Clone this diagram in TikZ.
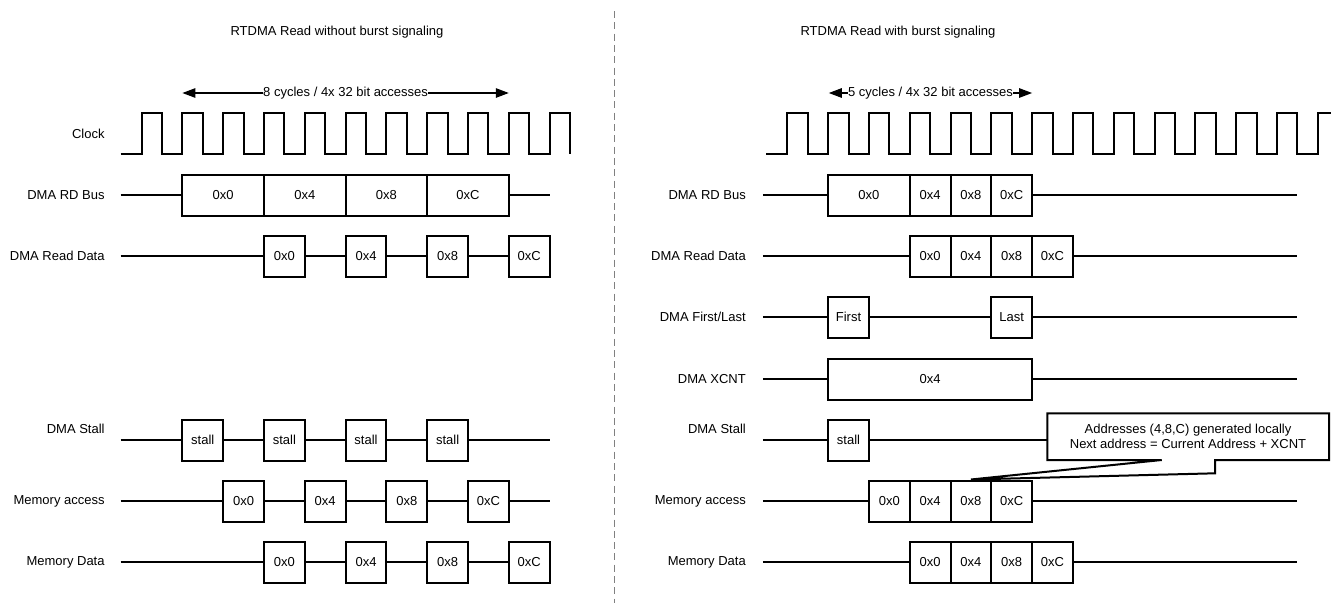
\documentclass[tikz,border=0pt]{standalone}
\usepackage{fontspec}
\setmainfont{Liberation Sans}
\usetikzlibrary{arrows.meta}
\tikzset{
  sig/.style={line width=2pt},
  tbox/.style={draw, line width=2pt, fill=white, inner sep=0pt, rectangle, font=\fontsize{13}{15.6}\selectfont},
  lbl/.style={anchor=east, inner sep=0pt, font=\fontsize{13}{15.6}\selectfont},
  ttl/.style={inner sep=0pt, font=\fontsize{13}{15.6}\selectfont},
  span/.style={line width=1.2pt, {Triangle[length=13pt,width=9.5pt]}-{Triangle[length=13pt,width=9.5pt]}},
  spantext/.style={fill=white, inner xsep=0.5pt, inner ysep=1pt, font=\fontsize{13}{15.6}\selectfont},
  divider/.style={draw=gray, line width=1.3pt, dash pattern=on 7pt off 4.3pt},
}
\newcommand\cellnode[6]{\node[tbox, minimum width={#3-#2}, minimum height=#5] (#1) at ({(#2+#3)/2},#4) {#6};}
\begin{document}
\begin{tikzpicture}[x=1pt,y=-1pt]
\useasboundingbox (0,0) rectangle (1331,603);
\clip (0,0) rectangle (1331,603);

% divider
\coordinate (dv1) at (614.7,11);
\coordinate (dv2) at (614.7,603);
\draw[divider] (dv1) -- (dv2);

% ================= LEFT =================
\node[ttl] (tl) at (337,32) {RTDMA Read without burst signaling};
\coordinate (la1) at (182.4,93);
\coordinate (la2) at (508.8,93);
\draw[span] (la1) -- node[spantext] (lspan) {8 cycles / 4x 32 bit accesses} (la2);

% clock
\node[lbl] (lclk) at (104.8,133.5) {Clock};
\draw[sig] (120.6,154) \foreach \k in {0,...,10}{ -- ({141.6+40.8*\k},154) -- ({141.6+40.8*\k},113) -- ({162+40.8*\k},113) -- ({162+40.8*\k},154) };

% DMA RD Bus
\node[lbl] (lrdl) at (104.8,195) {DMA RD Bus};
\coordinate (lrds) at (120.6,195);
\coordinate (lrde) at (549.6,195);
\cellnode{lrd0}{182.4}{264}{195}{41}{0x0}
\cellnode{lrd4}{264}{345.6}{195}{41}{0x4}
\cellnode{lrd8}{345.6}{427.2}{195}{41}{0x8}
\cellnode{lrdC}{427.2}{508.8}{195}{41}{0xC}
\draw[sig] (lrds) -- (lrd0.west);
\draw[sig] (lrdC.east) -- (lrde);

% DMA Read Data
\node[lbl] (lrdd) at (104.8,256) {DMA Read Data};
\coordinate (ldds) at (120.6,256);
\cellnode{ldd0}{264}{304.8}{256}{41}{0x0}
\cellnode{ldd4}{345.6}{386.4}{256}{41}{0x4}
\cellnode{ldd8}{427.2}{468}{256}{41}{0x8}
\cellnode{lddC}{508.8}{549.6}{256}{41}{0xC}
\draw[sig] (ldds) -- (ldd0.west);
\draw[sig] (ldd0.east) -- (ldd4.west);
\draw[sig] (ldd4.east) -- (ldd8.west);
\draw[sig] (ldd8.east) -- (lddC.west);

% DMA Stall
\node[lbl] (lstl) at (104.8,429) {DMA Stall};
\coordinate (lsts) at (120.6,440);
\coordinate (lste) at (549.6,440);
\cellnode{lst1}{182.4}{223.2}{440}{41}{stall}
\cellnode{lst2}{264}{304.8}{440}{41}{stall}
\cellnode{lst3}{345.6}{386.4}{440}{41}{stall}
\cellnode{lst4}{427.2}{468}{440}{41}{stall}
\draw[sig] (lsts) -- (lst1.west);
\draw[sig] (lst1.east) -- (lst2.west);
\draw[sig] (lst2.east) -- (lst3.west);
\draw[sig] (lst3.east) -- (lst4.west);
\draw[sig] (lst4.east) -- (lste);

% Memory access
\node[lbl] (lmal) at (104.8,501) {Memory access};
\coordinate (lmas) at (120.6,501);
\coordinate (lmae) at (549.6,501);
\cellnode{lma0}{223.2}{264}{501}{41}{0x0}
\cellnode{lma4}{304.8}{345.6}{501}{41}{0x4}
\cellnode{lma8}{386.4}{427.2}{501}{41}{0x8}
\cellnode{lmaC}{468}{508.8}{501}{41}{0xC}
\draw[sig] (lmas) -- (lma0.west);
\draw[sig] (lma0.east) -- (lma4.west);
\draw[sig] (lma4.east) -- (lma8.west);
\draw[sig] (lma8.east) -- (lmaC.west);
\draw[sig] (lmaC.east) -- (lmae);

% Memory Data
\node[lbl] (lmdl) at (104.8,562) {Memory Data};
\coordinate (lmds) at (120.6,562);
\cellnode{lmd0}{264}{304.8}{562}{41}{0x0}
\cellnode{lmd4}{345.6}{386.4}{562}{41}{0x4}
\cellnode{lmd8}{427.2}{468}{562}{41}{0x8}
\cellnode{lmdC}{508.8}{549.6}{562}{41}{0xC}
\draw[sig] (lmds) -- (lmd0.west);
\draw[sig] (lmd0.east) -- (lmd4.west);
\draw[sig] (lmd4.east) -- (lmd8.west);
\draw[sig] (lmd8.east) -- (lmdC.west);

% ================= RIGHT =================
\node[ttl] (tr) at (898,32) {RTDMA Read with burst signaling};
\coordinate (ra1) at (828.8,93);
\coordinate (ra2) at (1032.1,93);
\draw[span] (ra1) -- node[spantext] (rspan) {5 cycles / 4x 32 bit accesses} (ra2);

% clock
\draw[sig] (766.4,154) \foreach \k in {0,...,12}{ -- ({787.3+40.8*\k},154) -- ({787.3+40.8*\k},113) -- ({807.7+40.8*\k},113) -- ({807.7+40.8*\k},154) } -- (1317.7,154) -- (1317.7,113) -- (1335,113);

% DMA RD Bus
\node[lbl] (rrdl) at (746,195) {DMA RD Bus};
\coordinate (rrds) at (762.8,195);
\coordinate (rrde) at (1297.4,195);
\cellnode{rrd0}{828.1}{909.7}{195}{41}{0x0}
\cellnode{rrd4}{909.7}{950.5}{195}{41}{0x4}
\cellnode{rrd8}{950.5}{991.3}{195}{41}{0x8}
\cellnode{rrdC}{991.3}{1032.1}{195}{41}{0xC}
\draw[sig] (rrds) -- (rrd0.west);
\draw[sig] (rrdC.east) -- (rrde);

% DMA Read Data
\node[lbl] (rrdd) at (746,256) {DMA Read Data};
\coordinate (rdds) at (762.8,256);
\coordinate (rdde) at (1297.4,256);
\cellnode{rdd0}{909.7}{950.5}{256}{41}{0x0}
\cellnode{rdd4}{950.5}{991.3}{256}{41}{0x4}
\cellnode{rdd8}{991.3}{1032.1}{256}{41}{0x8}
\cellnode{rddC}{1032.1}{1072.9}{256}{41}{0xC}
\draw[sig] (rdds) -- (rdd0.west);
\draw[sig] (rddC.east) -- (rdde);

% DMA First/Last
\node[lbl] (rfll) at (746,317) {DMA First/Last};
\coordinate (rfls) at (762.8,317);
\coordinate (rfle) at (1297.4,317);
\cellnode{rfirst}{828.1}{868.9}{317}{41}{First}
\cellnode{rlast}{991.3}{1032.1}{317}{41}{Last}
\draw[sig] (rfls) -- (rfirst.west);
\draw[sig] (rfirst.east) -- (rlast.west);
\draw[sig] (rlast.east) -- (rfle);

% DMA XCNT
\node[lbl] (rxcl) at (746,379) {DMA XCNT};
\coordinate (rxcs) at (762.8,379);
\coordinate (rxce) at (1297.4,379);
\cellnode{rxc}{828.1}{1032.1}{379}{41}{0x4}
\draw[sig] (rxcs) -- (rxc.west);
\draw[sig] (rxc.east) -- (rxce);

% DMA Stall
\node[lbl] (rstl) at (746,429) {DMA Stall};
\coordinate (rsts) at (762.8,440);
\cellnode{rst1}{828.1}{868.9}{440}{41}{stall}
\draw[sig] (rsts) -- (rst1.west);

% Memory access
\node[lbl] (rmal) at (746,501) {Memory access};
\coordinate (rmas) at (762.8,501);
\coordinate (rmae) at (1297.4,501);
\cellnode{rma0}{868.9}{909.7}{501}{41}{0x0}
\cellnode{rma4}{909.7}{950.5}{501}{41}{0x4}
\cellnode{rma8}{950.5}{991.3}{501}{41}{0x8}
\cellnode{rmaC}{991.3}{1032.1}{501}{41}{0xC}
\draw[sig] (rmas) -- (rma0.west);
\draw[sig] (rmaC.east) -- (rmae);

% Memory Data
\node[lbl] (rmdl) at (746,562) {Memory Data};
\coordinate (rmds) at (762.8,562);
\coordinate (rmde) at (1297.4,562);
\cellnode{rmd0}{909.7}{950.5}{562}{41}{0x0}
\cellnode{rmd4}{950.5}{991.3}{562}{41}{0x4}
\cellnode{rmd8}{991.3}{1032.1}{562}{41}{0x8}
\cellnode{rmdC}{1032.1}{1072.9}{562}{41}{0xC}
\draw[sig] (rmds) -- (rmd0.west);
\draw[sig] (rmdC.east) -- (rmde);

% callout
\draw[sig, fill=white, line join=miter]
  (1047.3,413.3) -- (1329,413.3) -- (1329,460) -- (1215,460) -- (1215,473.3)
  -- (rma8.north) -- (1161.7,460) -- (1047.3,460) -- cycle;
\coordinate (cl) at (1047.3,440);
\draw[sig] (rst1.east) -- (cl);
\node[ttl, align=center] (callout) at (1188,436.5) {Addresses (4,8,C) generated locally\\Next address = Current Address + XCNT};
\end{tikzpicture}
\end{document}
